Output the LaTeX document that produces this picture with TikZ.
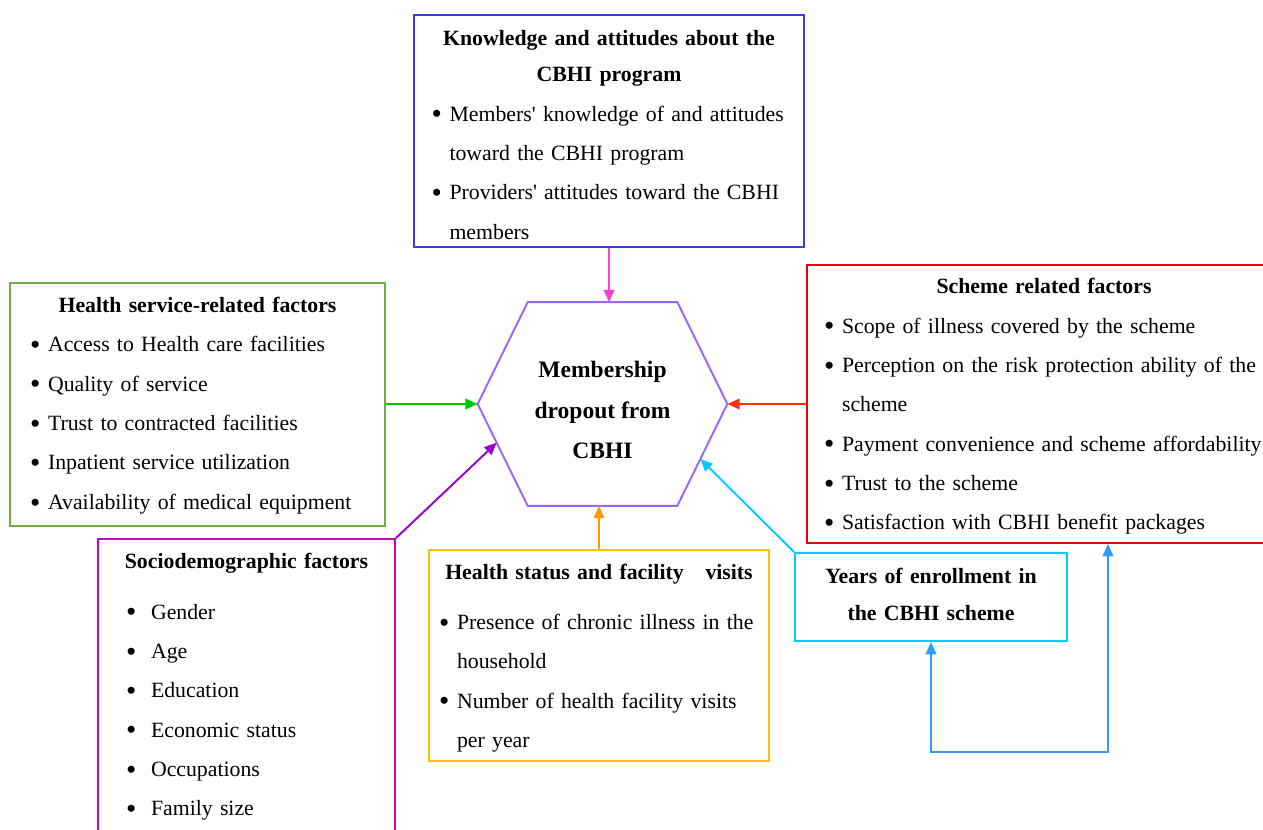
\documentclass[tikz,border=0pt]{standalone}
\usepackage{graphicx}
\usepackage{fontspec}
\setmainfont{Liberation Serif}
\usetikzlibrary{arrows.meta,calc}

\definecolor{knowblue}{HTML}{3B3BF0}
\definecolor{pinkarrow}{HTML}{FF3FCF}
\definecolor{hexpurple}{HTML}{9966FF}
\definecolor{servgreen}{HTML}{70AD47}
\definecolor{greenarrow}{HTML}{00C800}
\definecolor{schemered}{HTML}{F00000}
\definecolor{redarrow}{HTML}{FF3300}
\definecolor{sociomag}{HTML}{CC00CC}
\definecolor{purplearrow}{HTML}{9900CC}
\definecolor{statusyel}{HTML}{FFC000}
\definecolor{orangearrow}{HTML}{FF9900}
\definecolor{yearscyan}{HTML}{00CCFF}
\definecolor{loopblue}{HTML}{3399FF}

% bullet line with hanging indent
\newcommand{\bitem}[2][0.36cm]{\par\hangindent=#1\hangafter=1\noindent
    \makebox[#1][l]{\raisebox{-1.6pt}{\scalebox{1.35}{\textbullet}}}#2}

\begin{document}
\begin{tikzpicture}[
    x=0.02cm, y=-0.02cm,
    box/.style={
        rectangle,
        draw,
        line width=1.1pt,
        inner ysep=0pt,
        execute at begin node={\raggedright\parindent=0pt},
        font=\fontsize{12.4}{22.4}\selectfont
    },
    textdown/.style={execute at end node={\vspace*{#1}}},
    arrow/.style={->, >={Triangle[length=7pt,width=6pt]}, line width=1.1pt}
]
\useasboundingbox (0,0) rectangle (1263,829);

% central hexagon
\node[minimum width=4.98cm, minimum height=4.06cm,
      label={[align=center, yshift=-0.12cm, font=\fontsize{13.4}{23.2}\selectfont\bfseries]center:Membership\\dropout from\\CBHI}]
    (dropout) at (602.5,404) {};
\coordinate (hex-nw) at ([xshift=1cm]dropout.north west);
\coordinate (hex-ne) at ([xshift=-1cm]dropout.north east);
\coordinate (hex-se) at ([xshift=-1cm]dropout.south east);
\coordinate (hex-sw) at ([xshift=1cm]dropout.south west);
\draw[hexpurple, line width=1.1pt] (dropout.west) -- (hex-nw) -- (hex-ne)
    -- (dropout.east) -- (hex-se) -- (hex-sw) -- cycle;

\node[box, draw=knowblue, textdown=-0.16cm, text width=7.1cm, minimum width=7.8cm, minimum height=4.64cm] (knowledge) at (609,131) {%
    {\centering\bfseries Knowledge and attitudes about the\\[-2pt]CBHI program\par}
    \bitem{Members\textquotesingle{} knowledge of and attitudes\newline toward the CBHI program}
    \bitem{Providers\textquotesingle{} attitudes toward the CBHI\newline members}\par};

\node[box, draw=servgreen, textdown=-0.04cm, text width=6.7cm, minimum width=7.5cm, minimum height=4.86cm] (service) at (197.5,404.5) {%
    {\centering\bfseries Health service-related factors\par}
    \bitem{Access to Health care facilities}
    \bitem{Quality of service}
    \bitem{Trust to contracted facilities}
    \bitem{Inpatient service utilization}
    \bitem{Availability of medical equipment}\par};

\node[box, draw=schemered, textdown=-0.1cm, text width=8.8cm, minimum width=9.48cm, minimum height=5.56cm] (scheme) at (1044,404) {%
    {\centering\bfseries Scheme related factors\par}
    \bitem{Scope of illness covered by the scheme}
    \bitem{Perception on the risk protection ability of the\newline scheme}
    \bitem{Payment convenience and scheme affordability}
    \bitem{Trust to the scheme}
    \bitem{Satisfaction with CBHI benefit packages}\par};

\node[box, draw=sociomag, textdown=0pt, text width=5.14cm, minimum width=5.94cm, minimum height=5.92cm] (socio) at (246.5,687) {%
    {\centering\bfseries Sociodemographic factors\par}
    \vspace{0.22cm}\leftskip=0.16cm
    \bitem[0.5cm]{Gender}
    \bitem[0.5cm]{Age}
    \bitem[0.5cm]{Education}
    \bitem[0.5cm]{Economic status}
    \bitem[0.5cm]{Occupations}
    \bitem[0.5cm]{Family size}\par};

\node[box, draw=statusyel, textdown=-0.1cm, text width=6.4cm, minimum width=6.8cm, minimum height=4.22cm] (status) at (599,655.5) {%
    {\centering\bfseries Health status and facility\ \ \ visits\par}
    \vspace{0.22cm}
    \bitem{Presence of chronic illness in the\newline household}
    \bitem{Number of health facility visits\newline per year}\par};

\node[box, draw=yearscyan, textdown=0.12cm, text width=5.1cm, minimum width=5.44cm, minimum height=1.76cm,
      font=\fontsize{12.4}{21}\selectfont] (years) at (931,597) {%
    {\centering\bfseries Years of enrollment in\\the CBHI scheme\par}};

% arrows into the hexagon
\draw[arrow, pinkarrow] (knowledge.south) -- (knowledge.south |- dropout.north);
\draw[arrow, greenarrow] (service.east |- dropout.west) -- (dropout.west);
\draw[arrow, redarrow] (scheme.west |- dropout.east) -- (dropout.east);
\draw[arrow, orangearrow] (status.north) -- (status.north |- dropout.south);
\draw[arrow, purplearrow] (socio.north east) -- ($(dropout.west)!0.38!(hex-sw)$);
\draw[arrow, yearscyan] (years.north west) -- ($(dropout.east)!0.54!(hex-se)$);

% loop between scheme and years
\draw[arrow, loopblue, <->] (years.south) -- ++(0,110) -| ([xshift=1.28cm]scheme.south);

\end{tikzpicture}
\end{document}
